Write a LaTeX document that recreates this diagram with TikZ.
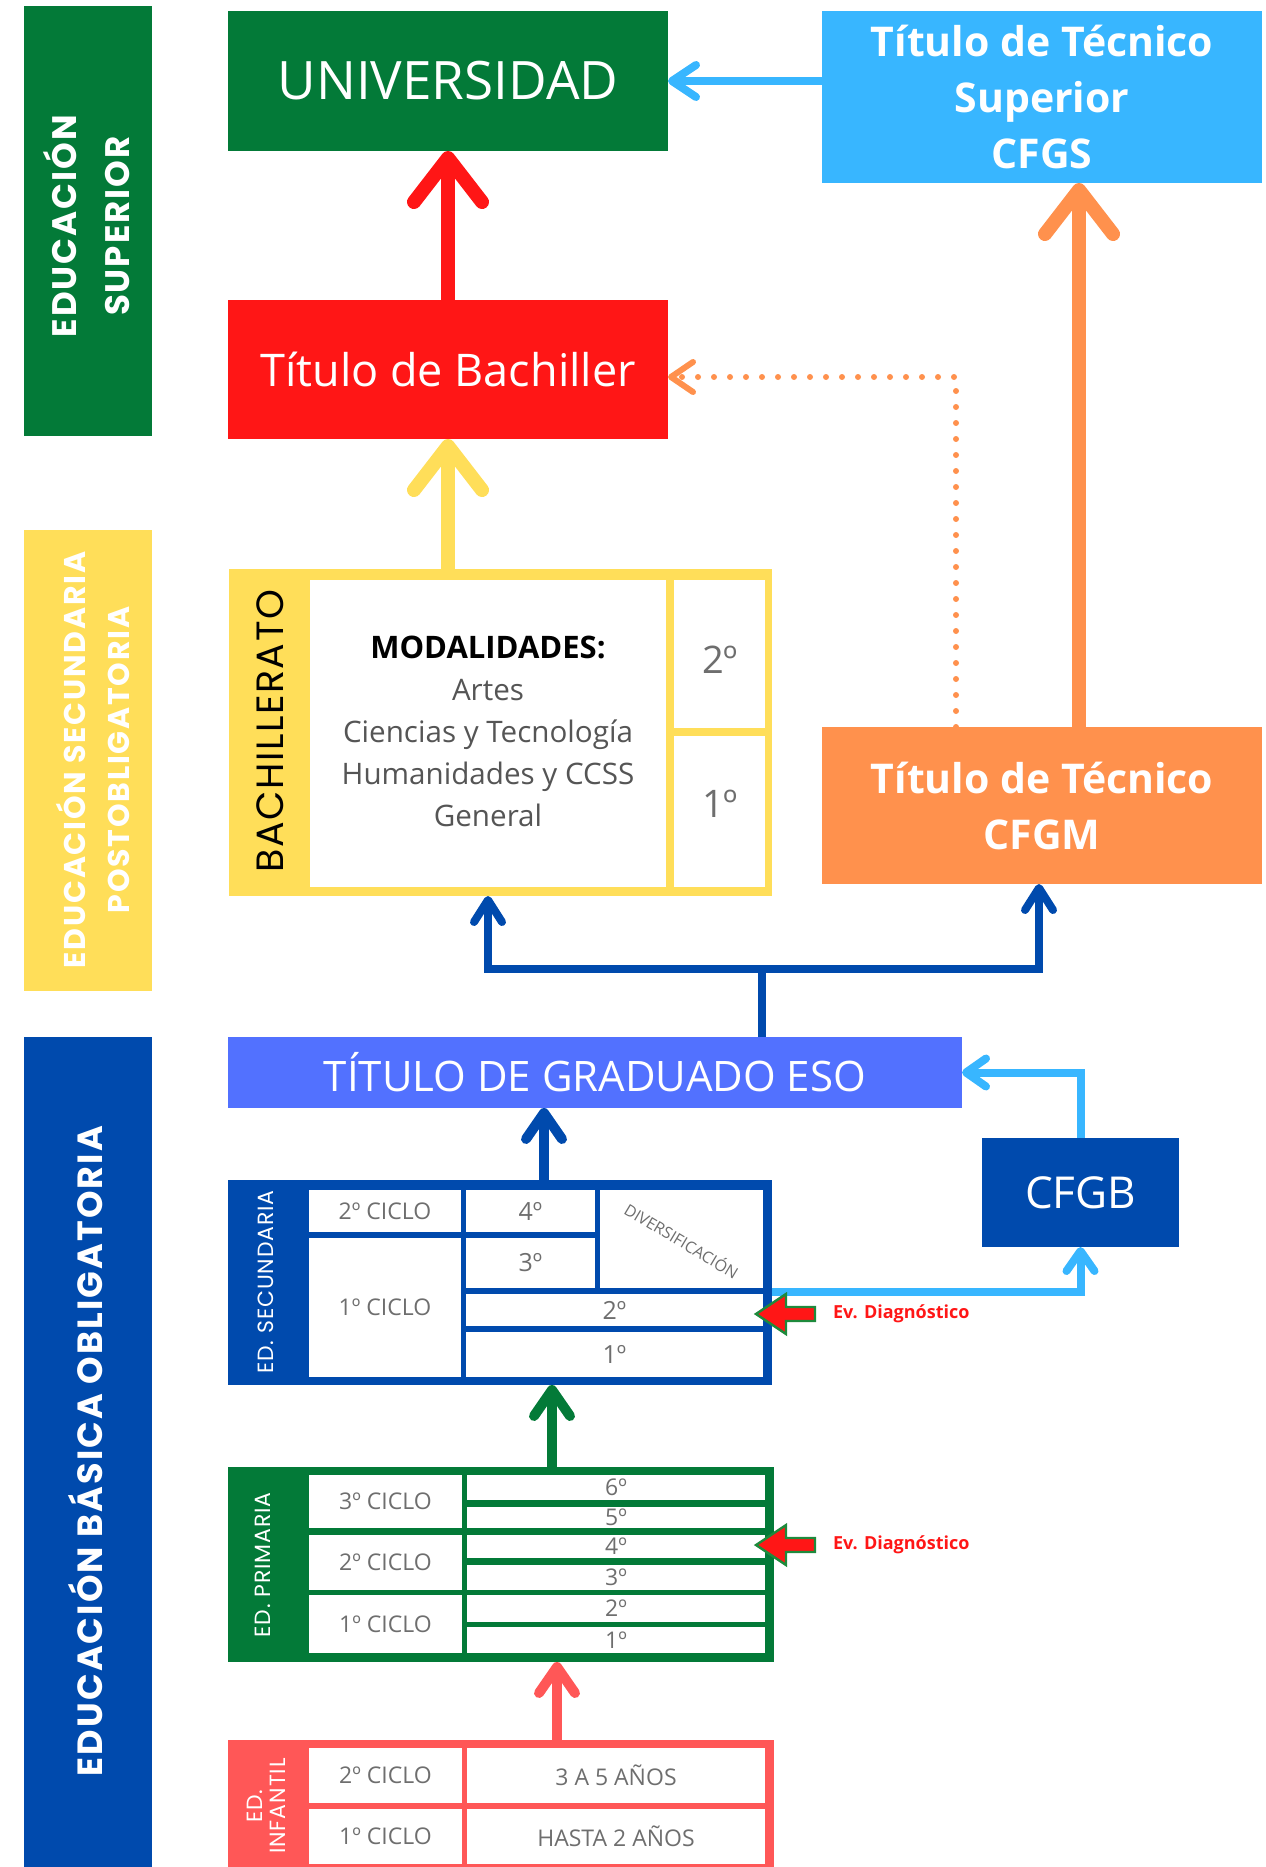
\documentclass[tikz,border=0pt]{standalone}
\usepackage{fontspec}
\setmainfont{Open Sans}
\newfontfamily\popfont{Poppins}[LetterSpace=4]
\newfontfamily\popbold{Poppins}[LetterSpace=6,UprightFont=* Bold]
\usetikzlibrary{arrows.meta,calc}
\definecolor{cgreen}{HTML}{037A38}
\definecolor{cred}{HTML}{FF1616}
\definecolor{clblue}{HTML}{38B6FF}
\definecolor{corange}{HTML}{FF914D}
\definecolor{cyellow}{HTML}{FFDE59}
\definecolor{cperi}{HTML}{5271FF}
\definecolor{cdblue}{HTML}{004AAD}
\definecolor{ccoral}{HTML}{FF5757}
\definecolor{cgray}{HTML}{6E6E6E}
\definecolor{cdgray}{HTML}{555555}
\definecolor{evgreen}{HTML}{1E8A3C}
\newcommand\rnode[7]{%
  \pgfmathsetmacro\rnX{(#2+#4)/2}%
  \pgfmathsetmacro\rnY{(#3+#5)/2}%
  \pgfmathsetmacro\rnW{(#4-#2)*0.5}%
  \pgfmathsetmacro\rnH{(#5-#3)*0.5}%
  \node[rect,#6,minimum width=\rnW pt,minimum height=\rnH pt] (#1) at (\rnX,\rnY) {#7};}
\tikzset{
  rect/.style={rectangle,draw=none,inner sep=0pt,outer sep=0pt},
  cell/.style={fill=white,text=cgray,font=\fontsize{11.5}{13}\selectfont},
  num/.style={fill=white,text=cgray,font=\fontsize{12.5}{14}\selectfont},
  bigarr/.style={line width=7pt,-{Straight Barb[length=22pt,width=34pt,round]}},
  medarr/.style={line width=5pt,-{Straight Barb[length=13pt,width=18pt,round]}},
  thinarr/.style={line width=4pt,-{Straight Barb[length=10pt,width=14pt,round]}},
  bandtext/.style={rotate=90,text=white,align=center},
  striptext/.style={rotate=90,text=white,align=center,font=\popfont\fontsize{11}{11.5}\selectfont},
  evtext/.style={anchor=west,text=cred,font=\bfseries\fontsize{9}{11}\selectfont},
  evarrow/.style={fill=cred,draw=evgreen,line width=1.2pt,line join=miter}
}
\begin{document}
\begin{tikzpicture}[x=0.5pt,y=-0.5pt]
\useasboundingbox (0,0) rectangle (1265,1867);
\clip (0,0) rectangle (1265,1867);
% side bands
\rnode{bsup}{24}{6}{152}{436}{fill=cgreen}{}
\node[bandtext,font=\popbold\fontsize{17}{26.5}\selectfont] (tsup) at (87,226) {EDUCACIÓN\\SUPERIOR};
\rnode{bpost}{24}{530}{152}{991}{fill=cyellow}{}
\node[bandtext,font=\popbold\fontsize{15}{22}\selectfont] (tpost) at (93,760) {EDUCACIÓN SECUNDARIA\\POSTOBLIGATORIA};
\rnode{bbas}{24}{1037}{152}{1880}{fill=cdblue}{}
\node[bandtext,font=\popbold\fontsize{17.5}{22}\selectfont] (tbas) at (86,1451) {EDUCACIÓN BÁSICA OBLIGATORIA};
% top boxes
\rnode{univ}{228}{11}{668}{151}{fill=cgreen,text=white,font=\fontsize{26.5}{30}\selectfont}{UNIVERSIDAD}
\rnode{cfgs}{822}{11}{1262}{183}{fill=clblue,text=white,align=center,font=\bfseries\fontsize{20.5}{28}\selectfont}{Título de Técnico\\Superior\\CFGS}
\rnode{bachiller}{228}{300}{668}{439}{fill=cred,text=white,font=\fontsize{22.5}{25}\selectfont}{Título de Bachiller}
\rnode{cfgm}{822}{727}{1262}{884}{fill=corange,text=white,align=center,font=\bfseries\fontsize{20.5}{28}\selectfont}{Título de Técnico\\CFGM}
% bachillerato
\rnode{bach}{229}{569}{772}{896}{fill=cyellow}{}
\rnode{bmod}{310}{580}{666}{887}{fill=white}{}
\node[align=center,text=cdgray,font=\fontsize{14.8}{21}\selectfont] (modtxt) at (488,731) {{\color{black}\bfseries\fontsize{15.5}{21}\selectfont MODALIDADES:}\\Artes\\Ciencias y Tecnología\\Humanidades y CCSS\\General};
\rnode{b2}{674}{580}{765}{728}{fill=white,text=cgray,font=\fontsize{19}{22}\selectfont}{}
\node[text=cgray,font=\fontsize{19}{22}\selectfont] (t2b) at (720,660) {2º};
\rnode{b1}{674}{736}{765}{887}{fill=white,text=cgray,font=\fontsize{19}{22}\selectfont}{}
\node[text=cgray,font=\fontsize{19}{22}\selectfont] (t1b) at (720,804) {1º};
\node[rotate=90,text=black,font=\popfont\fontsize{19}{22}\selectfont] (tbach) at (270,731) {BACHILLERATO};
% ESO and CFGB
\rnode{eso}{228}{1037}{962}{1108}{fill=cperi,text=white,font=\fontsize{21}{25}\selectfont}{TÍTULO DE GRADUADO ESO}
\rnode{cfgb}{982}{1138}{1179}{1247}{fill=cdblue,text=white,font=\fontsize{22}{26}\selectfont}{CFGB}
% secundaria
\rnode{sec}{228}{1180}{772}{1385}{fill=cdblue}{}
\node[striptext] (tsec) at (266,1282) {ED. SECUNDARIA};
\rnode{s2c}{309}{1190}{461}{1232}{cell}{2º CICLO}
\rnode{s1c}{309}{1238}{461}{1377}{cell}{1º CICLO}
\rnode{s4}{466}{1190}{595}{1232}{num}{4º}
\rnode{s3}{466}{1238}{595}{1288}{num}{3º}
\rnode{sdiv}{600}{1190}{763}{1288}{fill=white}{}
\node[rotate=-31,text=cgray,font=\fontsize{8}{9}\selectfont] (tdiv) at (682,1240) {DIVERSIFICACIÓN};
\rnode{s2}{466}{1294}{763}{1326}{num}{2º}
\rnode{s1}{466}{1332}{763}{1377}{num}{1º}
% primaria
\rnode{prim}{228}{1467}{774}{1662}{fill=cgreen}{}
\node[striptext] (tprim) at (263,1565) {ED. PRIMARIA};
\rnode{p3c}{309}{1475}{462}{1528}{cell}{3º CICLO}
\rnode{p2c}{309}{1535}{462}{1590}{cell}{2º CICLO}
\rnode{p1c}{309}{1595}{462}{1653}{cell}{1º CICLO}
\rnode{p6}{467}{1475}{765}{1500}{cell}{6º}
\rnode{p5}{467}{1507}{765}{1528}{cell}{5º}
\rnode{p4}{467}{1535}{765}{1558}{cell}{4º}
\rnode{p3}{467}{1565}{765}{1590}{cell}{3º}
\rnode{p2}{467}{1595}{765}{1622}{cell}{2º}
\rnode{p1}{467}{1627}{765}{1653}{cell}{1º}
% infantil
\rnode{inf}{228}{1740}{774}{1890}{fill=ccoral}{}
\node[striptext] (tinf) at (266,1806) {ED.\\INFANTIL};
\rnode{i2c}{309}{1748}{462}{1803}{cell}{2º CICLO}
\rnode{i1c}{309}{1809}{462}{1864}{cell}{1º CICLO}
\rnode{i2}{467}{1748}{765}{1803}{cell}{3 A 5 AÑOS}
\rnode{i1}{467}{1809}{765}{1864}{cell}{HASTA 2 AÑOS}
% connectors
\draw[cred,bigarr] (bachiller.north) -- (univ.south);
\draw[cyellow,bigarr] (bach.north -| bachiller.south) -- (bachiller.south);
\draw[corange,bigarr] ([xshift=18.5pt]cfgm.north) -- ([xshift=18.5pt]cfgs.south);
\draw[clblue,line width=4pt,-{Straight Barb[length=12pt,width=16pt,round]}] (cfgs.west |- univ.east) -- (univ.east);
\draw[corange,line width=3pt,dash pattern=on 0pt off 8pt,line cap=round,-{Straight Barb[length=11pt,width=15pt,round]}] ([xshift=-43pt]cfgm.north) |- ([yshift=-3.75pt]bachiller.east);
\coordinate (jn) at (762,969);
\coordinate (jl) at (488,969);
\coordinate (jr) at (1039,969);
\draw[cdblue,line width=4pt] (eso.north -| jn) -- (jn);
\draw[cdblue,line width=4pt,{Straight Barb[length=11pt,width=14pt,round]}-{Straight Barb[length=11pt,width=14pt,round]}] (bach.south -| jl) -- (jl) -- (jr) -- (cfgm.south -| jr);
\draw[cdblue,medarr] ([xshift=22pt]sec.north) -- ([xshift=22pt]sec.north |- eso.south);
\draw[cgreen,medarr] ([xshift=25.5pt]prim.north) -- ([xshift=25.5pt]prim.north |- sec.south);
\draw[ccoral,medarr] ([xshift=28pt]inf.north) -- ([xshift=28pt]inf.north |- prim.south);
\draw[clblue,thinarr] ([yshift=-4.75pt]sec.east) -| (cfgb.south);
\draw[clblue,thinarr] (cfgb.north) |- (eso.east);
% evaluation markers
\draw[evarrow] (756,1314) -- (786,1294) -- (786,1307) -- (815,1307) -- (815,1321) -- (786,1321) -- (786,1334) -- cycle;
\node[evtext] (ev1) at (826,1314) {Ev. Diagnóstico};
\draw[evarrow] (756,1545) -- (786,1525) -- (786,1538) -- (815,1538) -- (815,1552) -- (786,1552) -- (786,1565) -- cycle;
\node[evtext] (ev2) at (826,1545) {Ev. Diagnóstico};
\end{tikzpicture}
\end{document}
